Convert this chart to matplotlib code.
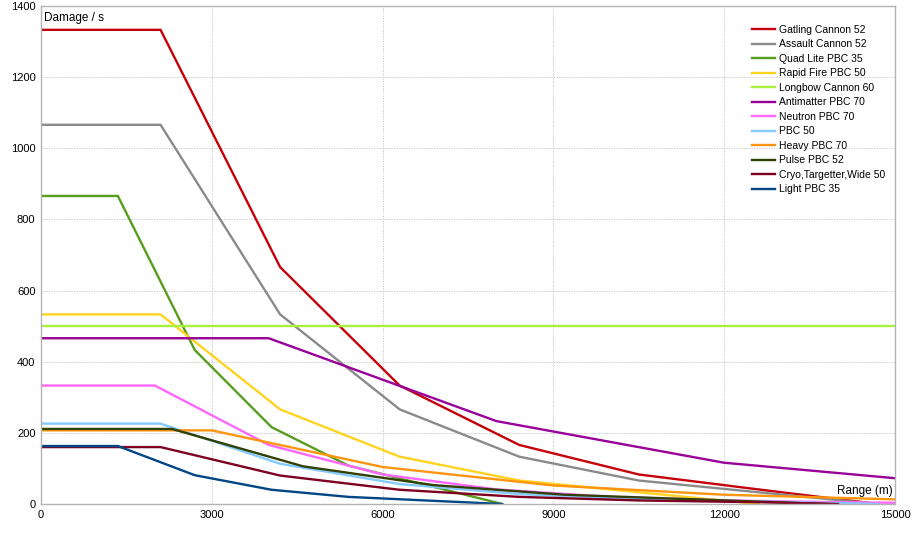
import matplotlib
matplotlib.use('Agg')
import matplotlib.pyplot as plt

plt.rcParams['font.family'] = ['Liberation Sans', 'DejaVu Sans']

# range (m) and damage / s for each weapon
gatling_x = [0, 2100, 4200, 6300, 8400, 10500, 12600, 14700]
gatling_y = [1333, 1333, 666, 333, 166, 83, 41, 0]
assault_x = [0, 2100, 4200, 6300, 8400, 10500, 12600, 14700]
assault_y = [1066, 1066, 533, 266, 133, 66, 33, 0]
quad_x = [0, 1350, 2700, 4050, 5400, 6750, 8100]
quad_y = [866, 866, 433, 216, 108, 54, 0]
rapid_x = [0, 2100, 4200, 6300, 8400, 10500, 12600]
rapid_y = [533, 533, 266, 133, 66, 33, 0]
longbow_x = [0, 15000]
longbow_y = [500, 500]
anti_x = [0, 4000, 8000, 12000, 16000]
anti_y = [466, 466, 233, 116, 58]
neutron_x = [0, 2000, 4000, 6000, 8000, 10000, 12000, 14000, 16000]
neutron_y = [333, 333, 166, 83, 41, 20, 10, 5, 2]
pbc_x = [0, 2100, 4200, 6300, 8400, 10500, 12600, 14700]
pbc_y = [226, 226, 113, 56, 28, 14, 7, 0]
heavy_x = [0, 3000, 6000, 9000, 12000, 15000]
heavy_y = [207, 207, 104, 52, 26, 13]
pulse_x = [0, 2300, 4600, 6900, 9200, 11500, 13800]
pulse_y = [211, 211, 106, 53, 26, 13, 0]
cryo_x = [0, 2100, 4200, 6300, 8400, 10500, 12600, 14000]
cryo_y = [160, 160, 80, 40, 20, 10, 5, 0]
light_x = [0, 1350, 2700, 4050, 5400, 6750, 8100]
light_y = [163, 163, 81, 40, 20, 10, 0]

series = [
    ('Gatling Cannon 52', gatling_x, gatling_y, '#c5000b'),
    ('Assault Cannon 52', assault_x, assault_y, '#8a8a8a'),
    ('Quad Lite PBC 35', quad_x, quad_y, '#579d1c'),
    ('Rapid Fire PBC 50', rapid_x, rapid_y, '#ffd320'),
    ('Longbow Cannon 60', longbow_x, longbow_y, '#a8f03c'),
    ('Antimatter PBC 70', anti_x, anti_y, '#990099'),
    ('Neutron PBC 70', neutron_x, neutron_y, '#ff66ff'),
    ('PBC 50', pbc_x, pbc_y, '#83caff'),
    ('Heavy PBC 70', heavy_x, heavy_y, '#ff950e'),
    ('Pulse PBC 52', pulse_x, pulse_y, '#314004'),
    ('Cryo,Targetter,Wide 50', cryo_x, cryo_y, '#7e0021'),
    ('Light PBC 35', light_x, light_y, '#004586'),
]

fig = plt.figure(figsize=(9.13, 5.48), dpi=100)
ax = fig.add_axes([41 / 913, 1 - 504 / 548, 854 / 913, 498 / 548])

for label, x, y, c in series:
    ax.plot(x, y, color=c, lw=1.7, label=label, solid_joinstyle='miter')

ax.set_xlim(0, 15000)
ax.set_ylim(0, 1400)
ax.set_xticks(range(0, 15001, 3000))
ax.set_yticks(range(0, 1401, 200))
ax.grid(True, color='#c0c0c0', ls=(0, (1.5, 1.5)), lw=0.6)
ax.set_axisbelow(True)
for s in ax.spines.values():
    s.set_color('#b3b3b3')
    s.set_linewidth(1)
ax.tick_params(length=0, labelsize=8, pad=4)

ax.text(0.003, 0.988, 'Damage / s', transform=ax.transAxes, fontsize=8.5,
        va='top', ha='left')
ax.text(0.997, 0.015, 'Range (m)', transform=ax.transAxes, fontsize=8.5,
        va='bottom', ha='right')

ax.legend(loc='upper left', bbox_to_anchor=(752 / 913, 1 - 25 / 548),
          bbox_transform=fig.transFigure, frameon=False, fontsize=7.5,
          handlelength=2.2, handletextpad=0.35, labelspacing=0.43,
          borderaxespad=0, borderpad=0)

fig.savefig('out.png', dpi=100)
